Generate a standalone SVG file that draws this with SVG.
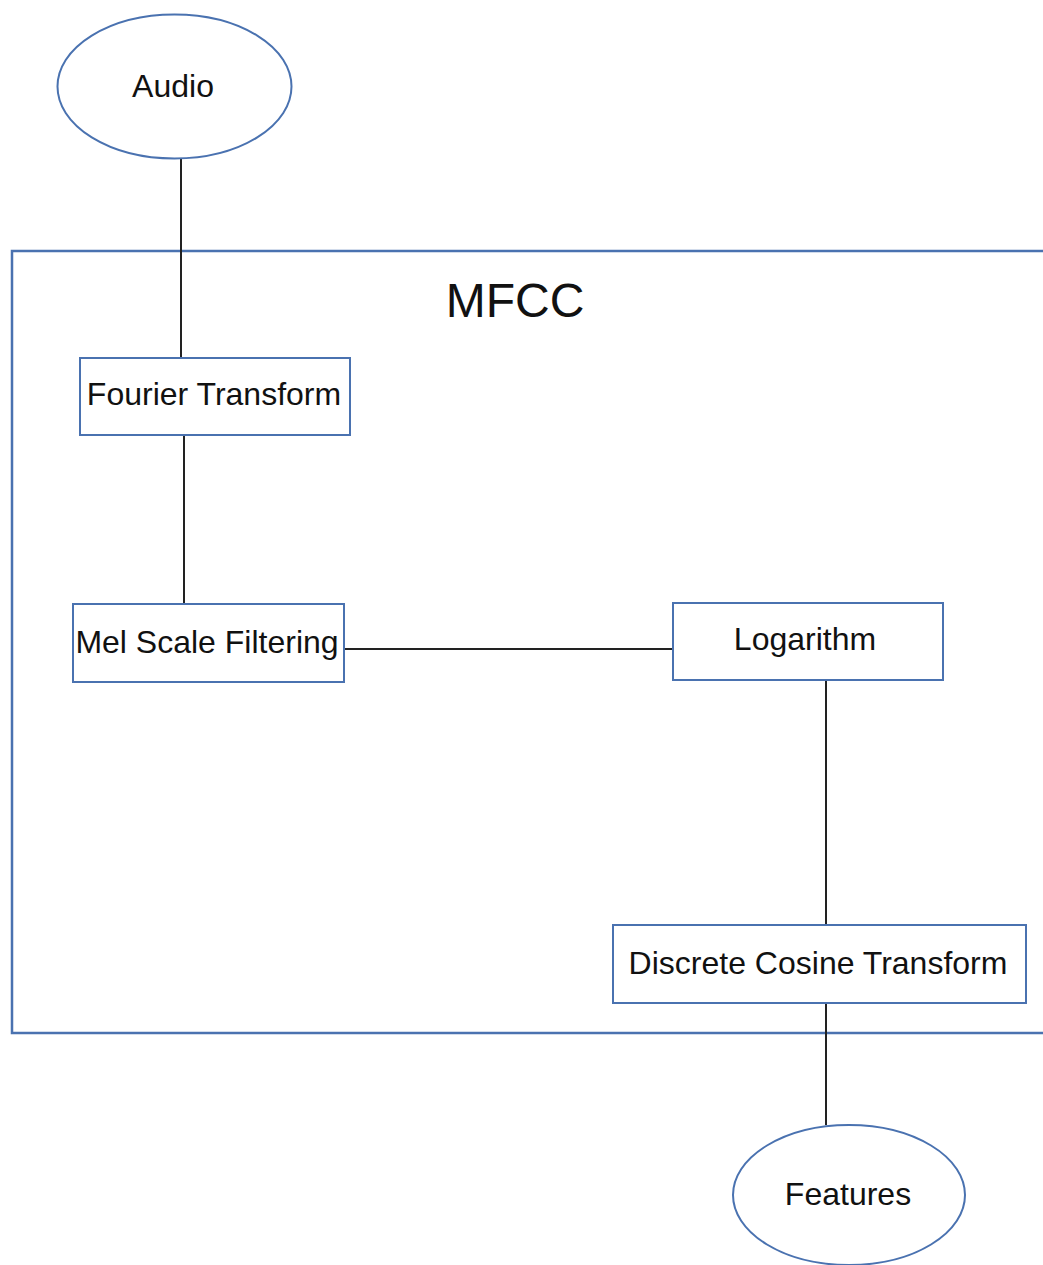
<svg xmlns="http://www.w3.org/2000/svg" width="1043" height="1265" viewBox="0 0 1043 1265">
<style>
.shape{fill:#fff;stroke:#4a72b0;stroke-width:2}
.frame{fill:none;stroke:#4a72b0;stroke-width:2.5}
.conn{stroke:#222;stroke-width:2;fill:none}
.lbl{font-family:"Liberation Sans",Arial,sans-serif;font-size:32px;fill:#111;text-anchor:middle}
.title{font-family:"Liberation Sans",Arial,sans-serif;font-size:48px;fill:#111;text-anchor:middle}
</style>
<rect width="1043" height="1265" fill="#fff"/>
<g id="mfcc">
<rect class="frame" x="12" y="251" width="1045" height="782"/>
<text class="title" x="515" y="317">MFCC</text>
</g>
<g id="connectors">
<line class="conn" x1="181" y1="159" x2="181" y2="357"/>
<line class="conn" x1="184" y1="435" x2="184" y2="604"/>
<line class="conn" x1="345" y1="649" x2="673" y2="649"/>
<line class="conn" x1="826" y1="680" x2="826" y2="925"/>
<line class="conn" x1="826" y1="1003" x2="826" y2="1125"/>
</g>
<g id="audio">
<ellipse class="shape" cx="174.5" cy="86.5" rx="117" ry="72"/>
<text class="lbl" x="173" y="97">Audio</text>
</g>
<g id="fourier">
<rect class="shape" x="80" y="358" width="270" height="77"/>
<text class="lbl" x="214" y="405">Fourier Transform</text>
</g>
<g id="mel">
<rect class="shape" x="73" y="604" width="271" height="78"/>
<text class="lbl" x="207" y="653">Mel Scale Filtering</text>
</g>
<g id="log">
<rect class="shape" x="673" y="603" width="270" height="77"/>
<text class="lbl" x="805" y="650">Logarithm</text>
</g>
<g id="dct">
<rect class="shape" x="613" y="925" width="413" height="78"/>
<text class="lbl" x="818" y="974">Discrete Cosine Transform</text>
</g>
<g id="features">
<ellipse class="shape" cx="849" cy="1195" rx="116" ry="70"/>
<text class="lbl" x="848" y="1205">Features</text>
</g>
</svg>
